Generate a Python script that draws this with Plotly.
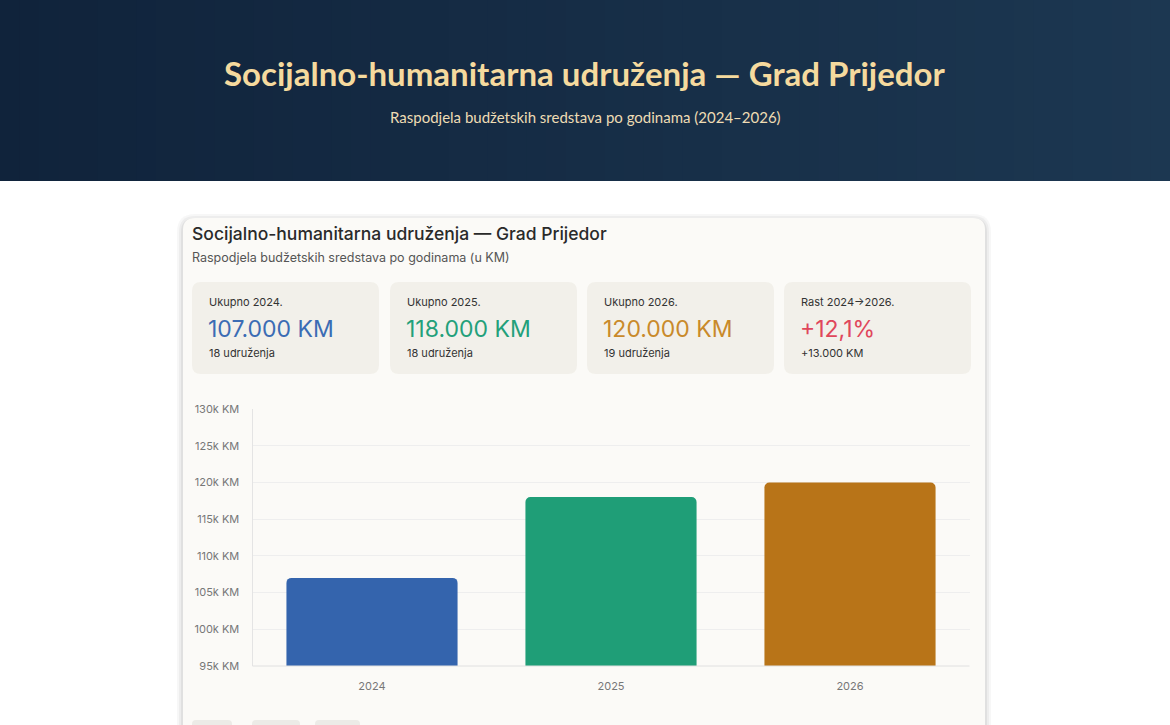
import plotly.graph_objects as go

W, H = 1170, 725

# ---- data ----
years = ["2024", "2025", "2026"]
totals = [107000, 118000, 120000]
assoc_counts = [18, 18, 19]
bar_colors = ["#3464ad", "#1f9e77", "#b87418"]
kpi_labels = ["Ukupno 2024.", "Ukupno 2025.", "Ukupno 2026.", "Rast 2024→2026."]
kpi_values = ["107.000 KM", "118.000 KM", "120.000 KM", "+12,1%"]
kpi_subs = ["18 udruženja", "18 udruženja", "19 udruženja", "+13.000 KM"]
kpi_colors = ["#3b6cb4", "#23a07a", "#c98a2a", "#e0475b"]

def px(x):
    return x / W

def py(y):
    return 1 - y / H

def rrect(x0, y0, x1, y1, r):
    pts = (
        f"M {px(x0+r)},{py(y0)} L {px(x1-r)},{py(y0)} Q {px(x1)},{py(y0)} {px(x1)},{py(y0+r)} "
        f"L {px(x1)},{py(y1-r)} Q {px(x1)},{py(y1)} {px(x1-r)},{py(y1)} "
        f"L {px(x0+r)},{py(y1)} Q {px(x0)},{py(y1)} {px(x0)},{py(y1-r)} "
        f"L {px(x0)},{py(y0+r)} Q {px(x0)},{py(y0)} {px(x0+r)},{py(y0)} Z"
    )
    return pts

def lerp(c1, c2, t):
    a = [int(c1[i:i+2], 16) for i in (1, 3, 5)]
    b = [int(c2[i:i+2], 16) for i in (1, 3, 5)]
    return "#" + "".join(f"{round(a[k] + (b[k]-a[k])*t):02x}" for k in range(3))

shapes = []
N = 60
for i in range(N):
    t = i / (N - 1)
    shapes.append(dict(type="rect", xref="paper", yref="paper",
                       x0=i / N, x1=(i + 1) / N + 0.002, y0=py(181), y1=1.01,
                       fillcolor=lerp("#10233b", "#1c3751", t), line=dict(width=0), layer="below"))

for k, op in [(6, 0.03), (4, 0.04), (2, 0.05)]:
    shapes.append(dict(type="path", xref="paper", yref="paper",
                       path=rrect(183 - k, 218 - k + 2, 985 + k, 780, 12 + k),
                       fillcolor=f"rgba(0,0,0,{op})", line=dict(width=0), layer="below"))
shapes.append(dict(type="path", xref="paper", yref="paper",
                   path=rrect(183, 218, 985, 780, 12),
                   fillcolor="#fbfaf7", line=dict(width=0), layer="below"))

box_lefts = [192, 390, 587, 784]
box_w = 187
for bx in box_lefts:
    shapes.append(dict(type="path", xref="paper", yref="paper",
                       path=rrect(bx, 282, bx + box_w, 374, 9),
                       fillcolor="#f2f0ea", line=dict(width=0), layer="below"))

# faint tabs peeking at the bottom edge
for x0, x1 in [(192, 232), (252, 300), (315, 360)]:
    shapes.append(dict(type="path", xref="paper", yref="paper",
                       path=rrect(x0, 720, x1, 740, 4),
                       fillcolor="#ecebe7", line=dict(width=0), layer="below"))

annotations = []
title_font = "Lato"
annotations.append(dict(text="<b>Socijalno-humanitarna udruženja — Grad Prijedor</b>",
                        x=0.5, y=py(73), xref="paper", yref="paper", showarrow=False,
                        xanchor="center", yanchor="middle",
                        font=dict(family=title_font, size=33, color="#f5da9e")))
annotations.append(dict(text="Raspodjela budžetskih sredstava po godinama (2024–2026)",
                        x=0.5, y=py(117), xref="paper", yref="paper", showarrow=False,
                        xanchor="center", yanchor="middle",
                        font=dict(family=title_font, size=15, color="#eedcb4")))
annotations.append(dict(text="Socijalno-humanitarna udruženja — Grad Prijedor",
                        x=px(190), y=py(233), xref="paper", yref="paper", showarrow=False,
                        xanchor="left", yanchor="middle",
                        font=dict(family="Inter", size=17.5, color="#2a2a2a", weight=500)))
annotations.append(dict(text="Raspodjela budžetskih sredstava po godinama (u KM)",
                        x=px(190), y=py(257), xref="paper", yref="paper", showarrow=False,
                        xanchor="left", yanchor="middle",
                        font=dict(family="Inter", size=12.5, color="#555555")))

for i, bx in enumerate(box_lefts):
    annotations.append(dict(text=kpi_labels[i], x=px(bx + 15), y=py(302), xref="paper", yref="paper",
                            showarrow=False, xanchor="left", yanchor="middle",
                            font=dict(family="Inter", size=11, color="#333333")))
    annotations.append(dict(text=kpi_values[i], x=px(bx + 14), y=py(329), xref="paper", yref="paper",
                            showarrow=False, xanchor="left", yanchor="middle",
                            font=dict(family="Inter", size=23, color=kpi_colors[i])))
    annotations.append(dict(text=kpi_subs[i], x=px(bx + 15), y=py(353), xref="paper", yref="paper",
                            showarrow=False, xanchor="left", yanchor="middle",
                            font=dict(family="Inter", size=11, color="#333333")))

fig = go.Figure()
fig.add_trace(go.Bar(x=years, y=totals, marker=dict(color=bar_colors, cornerradius=5, line=dict(width=0)),
                     width=0.716, hoverinfo="skip"))

fig.update_layout(
    width=W, height=H,
    margin=dict(l=0, r=0, t=0, b=0, pad=0, autoexpand=False),
    paper_bgcolor="#ffffff",
    plot_bgcolor="rgba(0,0,0,0)",
    showlegend=False,
    shapes=shapes,
    annotations=annotations,
    font=dict(family="Inter"),
    xaxis=dict(domain=[px(252.5), px(969.5)], showgrid=False, showline=False, automargin=False,
               tickfont=dict(family="Inter", size=11, color="#777777"), ticks="",
               ticklabelstandoff=12, fixedrange=True),
    yaxis=dict(domain=[py(666), py(409)], range=[95000, 130000], dtick=5000, automargin=False,
               tickformat="~s", ticksuffix=" KM", showgrid=True, gridcolor="#eeeeee", gridwidth=1,
               zeroline=False, showline=True, linecolor="#e4e4e4", ticks="",
               tickfont=dict(family="Inter", size=11, color="#777777"),
               ticklabelstandoff=10, fixedrange=True),
)
fig.add_shape(type="line", xref="paper", yref="paper", x0=px(252.5), x1=px(969.5),
              y0=py(666), y1=py(666), line=dict(color="#e0e0e0", width=1))

fig.write_html("out.html", config={"displayModeBar": False},
               post_script="document.body.style.margin='0';document.body.style.overflow='hidden';")
